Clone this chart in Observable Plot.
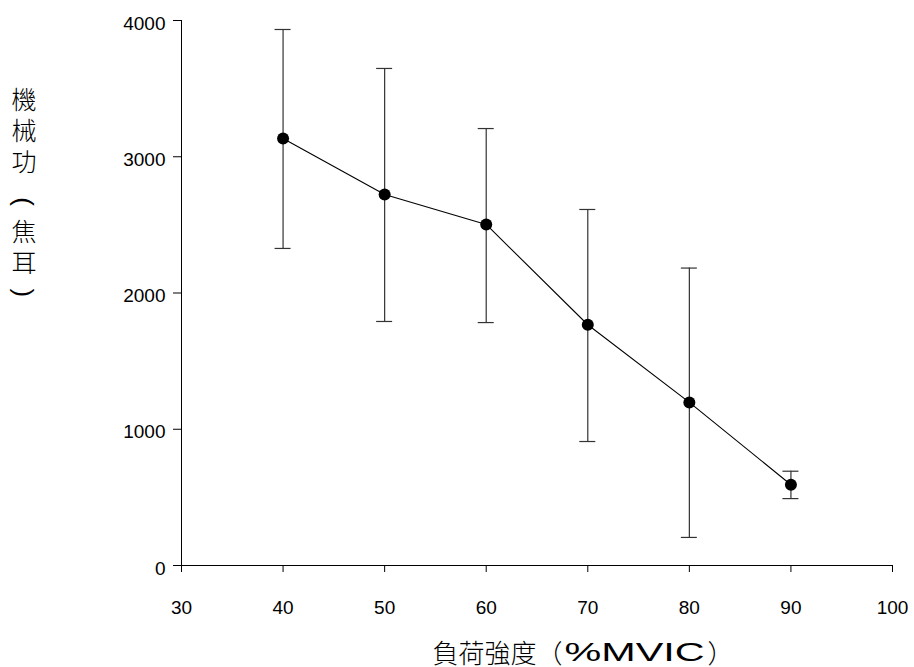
<!DOCTYPE html>
<html><head><meta charset="utf-8">
<script src="https://cdn.jsdelivr.net/npm/d3@7"></script>
<script src="https://cdn.jsdelivr.net/npm/@observablehq/plot@0.6"></script>
<style>body{margin:0;background:#fff}</style>
</head><body><div id="chart"></div>
<script>
const loads = [40, 50, 60, 70, 80, 90];
const work = [3134, 2723, 2503, 1767, 1197, 593];
const workHigh = [3934, 3648, 3207, 2613, 2183, 692];
const workLow = [2327, 1791, 1783, 910, 206, 491];
const xTicks = [30, 40, 50, 60, 70, 80, 90, 100];
const yTicks = [0, 1000, 2000, 3000, 4000];
const yLabelTop = "機\n械\n功";
const yLabelUnit = "焦\n耳";
const yLabelOpen = "(";
const yLabelClose = ")";
const xLabelCJK = "負荷強度（";
const xLabelLatin = "%MVIC";
const xLabelEnd = "）";

const data = loads.map((x, i) => ({x, y: work[i], hi: workHigh[i], lo: workLow[i]}));
const cjk = "'Noto Sans CJK TC', 'Noto Sans CJK SC', sans-serif";
const latin = "'Liberation Sans', Arial, sans-serif";

const chart = Plot.plot({
  width: 914, height: 667,
  marginLeft: 181, marginRight: 22, marginTop: 20, marginBottom: 102,
  style: {fontFamily: latin, fontSize: "19px", color: "#000", background: "#fff"},
  x: {domain: [30, 100]},
  y: {domain: [0, 4000]},
  marks: [
    Plot.ruleX([30], {y1: 0, y2: 4000, stroke: "#000"}),
    Plot.ruleY([0], {x1: 30, x2: 100, stroke: "#000"}),
    Plot.axisX({ticks: xTicks, tickSize: 7, tickPadding: 28, label: null, fontSize: 19, stroke: "#000"}),
    Plot.axisY({ticks: yTicks, tickSize: 8, text: null, label: null, stroke: "#000"}),
    Plot.axisY({ticks: yTicks, tickSize: 0, tickPadding: 16, dy: 3, label: null, fontSize: 19, tickFormat: d3.format("d")}),
    Plot.ruleX(data, {x: "x", y1: "lo", y2: "hi", stroke: "#333", strokeWidth: 1.2}),
    Plot.ruleY(data, {y: "hi", x1: "x", x2: "x", insetLeft: -8, insetRight: -8, stroke: "#333", strokeWidth: 1.2}),
    Plot.ruleY(data, {y: "lo", x1: "x", x2: "x", insetLeft: -8, insetRight: -8, stroke: "#333", strokeWidth: 1.2}),
    Plot.line(data, {x: "x", y: "y", stroke: "#000", strokeWidth: 1.1}),
    Plot.dot(data, {x: "x", y: "y", r: 6, fill: "#000"}),
    Plot.text([yLabelTop], {text: d => d, frameAnchor: "top-left", dx: -157.5, dy: 110, textAnchor: "middle",
      lineAnchor: "middle", lineHeight: 1.24, fontSize: 25, fontWeight: 300, fontFamily: cjk, fill: "#000"}),
    Plot.text([yLabelUnit], {text: d => d, frameAnchor: "top-left", dx: -157.5, dy: 226.5, textAnchor: "middle",
      lineAnchor: "middle", lineHeight: 1.24, fontSize: 25, fontWeight: 300, fontFamily: cjk, fill: "#000"}),
    Plot.text([yLabelOpen], {text: d => d, frameAnchor: "top-left", dx: -157.5, dy: 182, textAnchor: "middle",
      lineAnchor: "middle", fontSize: 26, fontFamily: latin, fill: "#000"}),
    Plot.text([yLabelClose], {text: d => d, frameAnchor: "top-left", dx: -157.5, dy: 273, textAnchor: "middle",
      lineAnchor: "middle", fontSize: 26, fontFamily: latin, fill: "#000"}),
    Plot.text([xLabelCJK], {text: d => d, frameAnchor: "bottom", dx: 25.5, dy: 88.7, textAnchor: "end",
      lineAnchor: "middle", fontSize: 26, fontWeight: 300, fontFamily: cjk, fill: "#000"}),
    Plot.text([xLabelLatin], {text: d => d, frameAnchor: "bottom", dx: 27.5, dy: 87, textAnchor: "start",
      lineAnchor: "middle", fontSize: 25, fontFamily: latin, fill: "#000"}),
    Plot.text([xLabelEnd], {text: d => d, frameAnchor: "bottom", dx: 170.5, dy: 88.7, textAnchor: "start",
      lineAnchor: "middle", fontSize: 26, fontWeight: 300, fontFamily: cjk, fill: "#000"})
  ]
});

d3.select(chart).selectAll("text")
  .filter(function() { return this.textContent === xLabelLatin; })
  .attr("textLength", 140).attr("lengthAdjust", "spacingAndGlyphs");

document.getElementById("chart").append(chart);

// turn the parentheses of the vertical y label into their vertical (rotated) form
d3.select(chart).selectAll("text")
  .filter(function() { return this.textContent === yLabelOpen || this.textContent === yLabelClose; })
  .each(function() {
    const b = this.getBBox();
    const cx = b.x + b.width / 2, cy = b.y + b.height / 2;
    const t = this.getAttribute("transform") || "";
    this.setAttribute("transform", `${t} rotate(90 ${cx} ${cy})`);
  });
</script>
</body></html>
